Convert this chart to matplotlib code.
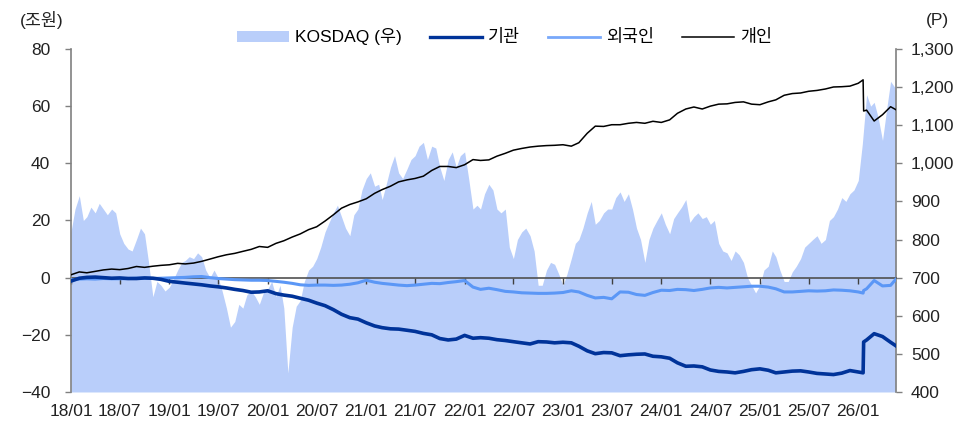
import matplotlib
matplotlib.use('Agg')
import matplotlib.pyplot as plt
import matplotlib.dates as mdates
import matplotlib.ticker as mticker
from matplotlib.patches import Patch
from matplotlib.lines import Line2D
import pandas as pd

plt.rcParams['font.family'] = ['Liberation Sans', 'Noto Sans CJK KR']
plt.rcParams['font.size'] = 12.5
plt.rcParams['axes.unicode_minus'] = True

# KOSDAQ index (right axis), 1st and 16th of each month, 2018/01 ~ 2026/05
kosdaq = [
    820, 880, 915, 850, 860, 885, 870, 895, 880, 865, 880, 870, 815, 790, 775, 770, 800, 830, 815, 740, 650, 690, 680, 665,
    675, 695, 720, 740, 745, 755, 750, 765, 755, 720, 700, 720, 700, 665, 620, 570, 585, 630, 620, 655, 665, 650, 630, 660,
    670, 690, 650, 680, 620, 450, 570, 625, 640, 690, 720, 730, 750, 780, 820, 845, 870, 890, 860, 830, 810, 865, 880, 930,
    960, 975, 940, 945, 905, 945, 990, 1020, 975, 960, 985, 1010, 1020, 1045, 1055, 1010, 1045, 1040, 990, 955, 1010, 1030, 990, 1020,
    1030, 960, 880, 890, 880, 920, 945, 930, 880, 870, 880, 780, 750, 800, 820, 830, 810, 770, 680, 680, 720, 740, 735, 710,
    680, 710, 750, 790, 800, 830, 870, 900, 840, 850, 870, 880, 880, 910, 925, 900, 920, 880, 830, 800, 740, 800, 830, 850,
    870, 840, 815, 855, 870, 885, 905, 845, 860, 870, 855, 860, 840, 850, 790, 770, 765, 745, 770, 760, 740, 700, 680, 660,
    680, 720, 730, 770, 755, 720, 690, 690, 715, 730, 750, 780, 790, 800, 810, 790, 800, 850, 860, 880, 910, 900, 920, 930,
    955, 1050, 1180, 1150, 1160, 1120, 1060, 1140, 1215, 1200,
    1190,
]

# cumulative net buying (trillion won), month starts 2018/01 ~ 2026/01, then 2026 points
inst = [
    -1.2, -0.2, 0.1, 0.2, 0.0, -0.2, -0.1, -0.3, -0.3, -0.1, -0.2, -0.6,
    -1.3, -1.6, -1.9, -2.2, -2.5, -2.9, -3.2, -3.6, -4.1, -4.5, -5.1, -5.0,
    -4.6, -5.6, -6.1, -6.5, -7.2, -7.9, -8.9, -9.8, -11.2, -12.8, -14.0, -14.5,
    -15.8, -16.9, -17.5, -17.9, -18.0, -18.4, -18.8, -19.5, -20.0, -21.3, -21.8, -21.5,
    -20.2, -21.2, -21.0, -21.2, -21.7, -22.0, -22.4, -22.8, -23.2, -22.4, -22.5, -22.8,
    -22.6, -22.8, -24.0, -25.6, -26.6, -26.2, -26.3, -27.3, -27.0, -26.8, -26.7, -27.5,
    -27.7, -28.2, -29.8, -31.0, -30.9, -31.2, -32.3, -32.8, -33.0, -33.3, -32.8, -32.2,
    -31.9, -32.4, -33.3, -33.0, -32.7, -32.6, -33.0, -33.5, -33.7, -33.9, -33.4, -32.5,
    -33.0,
    -33.3, -22.5, -21.8, -19.6, -20.6, -22.6, -23.8,
]
foreign = [
    -0.8, -0.5, -0.4, -0.5, -0.3, -0.4, -0.4, -0.3, -0.2, -0.2, -0.3, -0.2,
    -0.1, 0.0, 0.1, 0.3, 0.4, 0.0, -0.3, -0.5, -0.7, -0.8, -0.9, -0.9,
    -1.0, -1.3, -1.6, -2.0, -2.5, -2.7, -2.6, -2.6, -2.7, -2.6, -2.3, -1.8,
    -0.9, -1.6, -2.0, -2.3, -2.6, -2.8, -2.6, -2.3, -2.0, -2.1, -1.7, -1.4,
    -1.0, -3.3, -4.1, -3.7, -4.2, -4.8, -5.0, -5.3, -5.4, -5.5, -5.5, -5.4,
    -5.2, -4.6, -5.0, -6.2, -7.1, -6.9, -7.4, -5.0, -5.1, -5.9, -6.2, -5.2,
    -4.4, -4.5, -4.1, -4.2, -4.5, -4.1, -3.6, -3.4, -3.6, -3.4, -3.2, -3.0,
    -3.0, -3.3, -3.9, -5.0, -5.0, -4.8, -4.6, -4.7, -4.6, -4.3, -4.4, -4.6,
    -5.0,
    -5.4, -4.5, -3.9, -1.0, -2.9, -2.7, -0.6,
]
retail = [
    1.0, 2.0, 1.7, 2.2, 2.7, 3.0, 2.8, 3.2, 3.9, 3.6, 4.0, 4.3,
    4.5, 5.0, 4.8, 5.1, 5.7, 6.5, 7.3, 8.0, 8.5, 9.2, 9.9, 10.9,
    10.6, 12.0, 12.9, 14.2, 15.3, 16.8, 17.8, 19.8, 22.0, 24.3, 25.6, 26.5,
    27.6, 29.5, 30.8, 32.0, 33.5, 34.2, 34.7, 35.5, 37.5, 38.9, 38.9, 38.5,
    39.5, 41.3, 41.0, 41.2, 42.5, 43.5, 44.6, 45.2, 45.7, 46.0, 46.2, 46.3,
    46.5, 46.0, 47.2, 50.5, 53.0, 52.9, 53.5, 53.5, 54.0, 54.3, 54.0, 54.7,
    54.3, 55.2, 57.5, 59.0, 59.7, 59.0, 60.0, 60.7, 60.8, 61.3, 61.5, 60.7,
    60.5, 61.5, 62.2, 63.8, 64.4, 64.6, 65.2, 65.5, 66.0, 66.7, 66.8, 67.0,
    68.0,
    69.2, 58.3, 58.6, 54.8, 57.0, 59.8, 58.8,
]

months = pd.date_range('2018-01-01', '2026-05-01', freq='MS')
kosdaq_dates = sorted(list(months) + list(months + pd.Timedelta(days=15))) + [pd.Timestamp('2026-05-20')]
line_dates = list(pd.date_range('2018-01-01', '2026-01-01', freq='MS')) + list(pd.to_datetime(
    ['2026-01-19', '2026-01-21', '2026-02-01', '2026-03-01', '2026-04-01', '2026-05-01', '2026-05-20']))

c_fill = '#b9cefa'
c_inst = '#003399'
c_foreign = '#5b97f6'
c_axis = '#808080'
c_text = '#222222'

fig = plt.figure(figsize=(9.59, 4.24), dpi=100)
ax = fig.add_axes([0.074, 0.0755, 0.86, 0.809])
ax2 = ax.twinx()

ax2.fill_between(kosdaq_dates, kosdaq, 400, color=c_fill, lw=0)
ax2.set_ylim(400, 1300)
ax2.yaxis.set_major_locator(mticker.MultipleLocator(100))
ax2.yaxis.set_major_formatter(mticker.FuncFormatter(lambda v, p: f'{v:,.0f}'))

ax.set_zorder(ax2.get_zorder() + 1)
ax.patch.set_visible(False)

ax.plot(line_dates, inst, color=c_inst, lw=2.6, zorder=4)
ax.plot(line_dates, foreign, color=c_foreign, lw=2.2, zorder=3)
ax.plot(line_dates, retail, color='black', lw=1.1, zorder=5)

ax.set_ylim(-40, 80)
ax.yaxis.set_major_locator(mticker.MultipleLocator(20))
ax.set_xlim(pd.Timestamp('2018-01-01'), pd.Timestamp('2026-05-20'))
ax.xaxis.set_major_locator(mdates.MonthLocator(bymonth=[1, 7]))
ax.xaxis.set_major_formatter(mdates.DateFormatter('%y/%m'))

# zero line with the date ticks on it
zero = ax.secondary_xaxis(40 / 120)
zero.xaxis.set_major_locator(mdates.MonthLocator(bymonth=[1, 7]))
zero.tick_params(axis='x', direction='out', length=4, width=1, color='#404040', labelbottom=False)
zero.spines['bottom'].set_color('#505050')
zero.spines['bottom'].set_linewidth(1.2)

for s in ['top', 'bottom', 'right']:
    ax.spines[s].set_visible(False)
for s in ['top', 'bottom', 'left']:
    ax2.spines[s].set_visible(False)
ax.spines['left'].set_color(c_axis)
ax.spines['left'].set_linewidth(1.2)
ax2.spines['right'].set_color(c_axis)
ax2.spines['right'].set_linewidth(1.2)

ax.tick_params(axis='x', length=0, pad=9, labelsize=12.5, colors=c_text)
ax.tick_params(axis='y', length=4, width=1, color=c_axis, pad=11, labelsize=12.5, labelcolor=c_text)
ax2.tick_params(axis='y', length=4, width=1, color=c_axis, pad=7, labelsize=12.5, labelcolor=c_text)

fig.text(0.043, 0.952, '(조원)', ha='center', va='center', fontsize=12.5, color=c_text)
fig.text(0.978, 0.952, '(P)', ha='center', va='center', fontsize=12.5, color=c_text)

handles = [
    Patch(facecolor=c_fill, edgecolor='none'),
    Line2D([], [], color=c_inst, lw=2.4),
    Line2D([], [], color='#78a8fa', lw=2.0),
    Line2D([], [], color='black', lw=1.1),
]
labels = ['KOSDAQ (우)', '기관', '외국인', '개인']
fig.legend(handles, labels, loc='center', bbox_to_anchor=(0.526, 0.913), ncol=4, frameon=False,
           fontsize=12.5, handlelength=3.0, handletextpad=0.35, columnspacing=1.6, handleheight=0.6)

fig.savefig('out.png', dpi=100)
